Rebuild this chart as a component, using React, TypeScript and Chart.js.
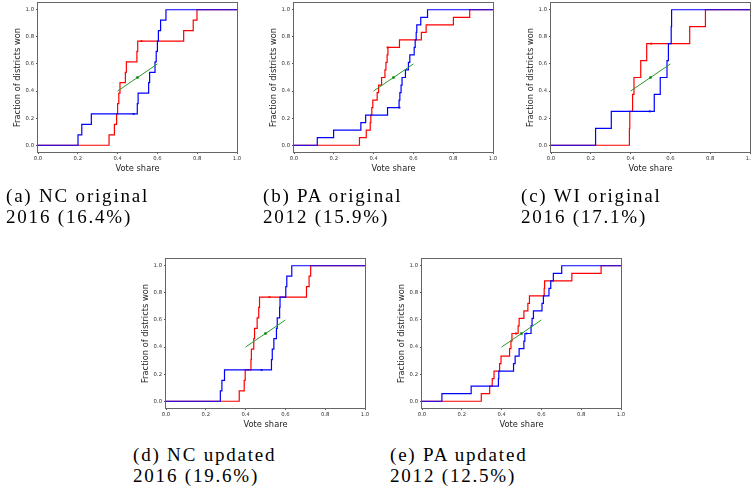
import React, { useEffect, useRef } from 'react';
import { Chart, registerables } from 'chart.js';

Chart.register(...registerables);

// ---------- data ----------
const X_TICKS = [0, 0.2, 0.4, 0.6, 0.8, 1.0];
const Y_TICKS = [0, 0.2, 0.4, 0.6, 0.8, 1.0];

// Democratic (blue) and Republican (red) district vote shares, sorted
const NC_ORIG_DEM = [0.201, 0.220, 0.268, 0.499, 0.503, 0.556, 0.561, 0.588, 0.594, 0.600, 0.605, 0.616, 0.643];
const NC_ORIG_REP = [0.357, 0.384, 0.395, 0.400, 0.406, 0.412, 0.439, 0.444, 0.497, 0.501, 0.732, 0.780, 0.799];
const NC_ORIG_DEM_MARK = [0.48, 0.231];
const NC_ORIG_REP_MARK = [0.52, 0.769];

const PA_ORIG_DEM = [0.117, 0.199, 0.336, 0.360, 0.470, 0.528, 0.532, 0.538, 0.543, 0.560, 0.575, 0.582, 0.604, 0.609, 0.614, 0.617, 0.637, 0.671];
const PA_ORIG_REP = [0.329, 0.363, 0.383, 0.386, 0.391, 0.396, 0.418, 0.425, 0.440, 0.457, 0.462, 0.468, 0.472, 0.530, 0.640, 0.664, 0.801, 0.883];
const PA_ORIG_DEM_MARK = [0.53, 0.278];
const PA_ORIG_REP_MARK = [0.47, 0.722];

const WI_ORIG_DEM = [0.224, 0.303, 0.519, 0.549, 0.583, 0.590, 0.604, 0.606];
const WI_ORIG_REP = [0.394, 0.396, 0.410, 0.417, 0.451, 0.481, 0.697, 0.776];
const WI_ORIG_DEM_MARK = [0.496, 0.25];
const WI_ORIG_REP_MARK = [0.504, 0.75];

const NC_UPD_DEM = [0.273, 0.281, 0.294, 0.530, 0.534, 0.542, 0.555, 0.559, 0.571, 0.573, 0.602, 0.607, 0.632];
const NC_UPD_REP = [0.368, 0.393, 0.398, 0.427, 0.429, 0.441, 0.445, 0.458, 0.466, 0.470, 0.706, 0.719, 0.727];
const NC_UPD_DEM_MARK = [0.48, 0.231];
const NC_UPD_REP_MARK = [0.52, 0.769];

const PA_UPD_DEM = [0.100, 0.247, 0.384, 0.386, 0.460, 0.468, 0.488, 0.512, 0.517, 0.548, 0.553, 0.560, 0.603, 0.610, 0.638, 0.647, 0.660, 0.702];
const PA_UPD_REP = [0.298, 0.340, 0.353, 0.362, 0.390, 0.397, 0.440, 0.447, 0.452, 0.483, 0.488, 0.512, 0.532, 0.540, 0.614, 0.616, 0.753, 0.900];
const PA_UPD_DEM_MARK = [0.525, 0.5];
const PA_UPD_REP_MARK = [0.472, 0.5];

const GREEN_LINE_X = [0.4, 0.6];
const GREEN_LINE_Y = [0.4, 0.6];
const GREEN_DOT = [0.5, 0.5];

const X_TITLE = 'Vote share';
const Y_TITLE = 'Fraction of districts won';

// ---------- layout ----------
const PLOT_W = 199;
const PLOT_H = 149;
const PAD = 12;
const YW = 25;
const XH = 22;

type PanelProps = {
  dem: number[];
  rep: number[];
  demMark: number[];
  repMark: number[];
  left: number;
  top: number;
};

function cdf(shares: number[]) {
  const n = shares.length;
  const pts = [{ x: 0, y: 0 }];
  shares.forEach((s, i) => pts.push({ x: s, y: (i + 1) / n }));
  pts.push({ x: 1, y: 1 });
  return pts;
}

const framePlugin = {
  id: 'frame',
  afterDatasetsDraw(chart: any) {
    const { ctx, chartArea } = chart;
    ctx.save();
    ctx.strokeStyle = '#666';
    ctx.lineWidth = 1;
    ctx.strokeRect(
      chartArea.left - 0.5,
      chartArea.top - 0.5,
      chartArea.right - chartArea.left + 1,
      chartArea.bottom - chartArea.top + 1
    );
    ctx.restore();
  },
};

const TICK_FONT = { family: 'DejaVu Sans', size: 5.3 };
const TITLE_FONT = { family: 'DejaVu Sans', size: 8.3 };

function Panel({ dem, rep, demMark, repMark, left, top }: PanelProps) {
  const ref = useRef<HTMLCanvasElement | null>(null);
  const cw = PAD + YW + PLOT_W + PAD;
  const ch = PAD + PLOT_H + XH + PAD;

  useEffect(() => {
    if (!ref.current) return;
    const chart = new Chart(ref.current, {
      type: 'line',
      data: {
        datasets: [
          {
            data: [{ x: GREEN_DOT[0], y: GREEN_DOT[1] }],
            showLine: false,
            pointRadius: 1.7,
            pointStyle: 'rect',
            pointBackgroundColor: '#008000',
            pointBorderColor: '#008000',
            pointBorderWidth: 0,
          },
          {
            data: GREEN_LINE_X.map((x, i) => ({ x, y: GREEN_LINE_Y[i] })),
            borderColor: '#2a962a',
            borderWidth: 1,
            pointRadius: 0,
          },
          {
            data: [{ x: demMark[0], y: demMark[1] }],
            showLine: false,
            pointRadius: 1.3,
            pointStyle: 'rect',
            pointBackgroundColor: '#0000ff',
            pointBorderWidth: 0,
          },
          {
            data: [{ x: repMark[0], y: repMark[1] }],
            showLine: false,
            pointRadius: 1.3,
            pointStyle: 'rect',
            pointBackgroundColor: '#ff0000',
            pointBorderWidth: 0,
          },
          {
            data: cdf(dem),
            stepped: true,
            borderColor: '#0000ff',
            borderWidth: 1.2,
            pointRadius: 0,
          },
          {
            data: cdf(rep),
            stepped: true,
            borderColor: '#ff0000',
            borderWidth: 1.2,
            pointRadius: 0,
          },
        ],
      },
      options: {
        responsive: false,
        maintainAspectRatio: false,
        animation: false,
        devicePixelRatio: 1,
        events: [],
        layout: { padding: PAD },
        plugins: { legend: { display: false }, tooltip: { enabled: false } },
        scales: {
          x: {
            type: 'linear',
            min: 0,
            max: 1,
            afterBuildTicks: (s: any) => {
              s.ticks = X_TICKS.map((v) => ({ value: v }));
            },
            afterFit: (s: any) => {
              s.height = XH;
            },
            ticks: {
              font: TICK_FONT,
              color: '#333',
              padding: 1,
              maxRotation: 0,
              autoSkip: false,
              callback: (v: any) => Number(v).toFixed(1),
            },
            grid: { drawOnChartArea: false, drawTicks: true, tickLength: 2, color: '#555' },
            border: { display: false },
            title: { display: true, text: X_TITLE, font: TITLE_FONT, color: '#222', padding: 0 },
          },
          y: {
            type: 'linear',
            min: -0.05,
            max: 1.05,
            afterBuildTicks: (s: any) => {
              s.ticks = Y_TICKS.map((v) => ({ value: v }));
            },
            afterFit: (s: any) => {
              s.width = YW;
            },
            ticks: {
              font: TICK_FONT,
              color: '#333',
              padding: 2,
              autoSkip: false,
              callback: (v: any) => Number(v).toFixed(1),
            },
            grid: { drawOnChartArea: false, drawTicks: true, tickLength: 2, color: '#555' },
            border: { display: false },
            title: { display: true, text: Y_TITLE, font: TITLE_FONT, color: '#222', padding: 0 },
          },
        },
      },
      plugins: [framePlugin],
    } as any);
    return () => chart.destroy();
  }, [dem, rep, demMark, repMark]);

  return (
    <canvas
      ref={ref}
      width={cw}
      height={ch}
      style={{
        position: 'absolute',
        left: left - PAD - YW,
        top: top - PAD,
        width: cw,
        height: ch,
      }}
    />
  );
}

function Caption({ left, top, lines }: { left: number; top: number; lines: string[] }) {
  return (
    <div
      style={{
        position: 'absolute',
        left,
        top,
        fontFamily: '"Liberation Serif", serif',
        fontSize: 19,
        lineHeight: '21px',
        letterSpacing: '1.8px',
        whiteSpace: 'pre',
        color: '#000',
      }}
    >
      {lines.map((l, i) => (
        <div key={i}>{l}</div>
      ))}
    </div>
  );
}

export default function App() {
  return (
    <div
      style={{
        position: 'absolute',
        left: 0,
        top: 0,
        width: 751,
        height: 491,
        overflow: 'hidden',
        background: '#fff',
      }}
    >
      <Panel dem={NC_ORIG_DEM} rep={NC_ORIG_REP} demMark={NC_ORIG_DEM_MARK} repMark={NC_ORIG_REP_MARK} left={38} top={3} />
      <Panel dem={PA_ORIG_DEM} rep={PA_ORIG_REP} demMark={PA_ORIG_DEM_MARK} repMark={PA_ORIG_REP_MARK} left={294} top={3} />
      <Panel dem={WI_ORIG_DEM} rep={WI_ORIG_REP} demMark={WI_ORIG_DEM_MARK} repMark={WI_ORIG_REP_MARK} left={551} top={3} />
      <Panel dem={NC_UPD_DEM} rep={NC_UPD_REP} demMark={NC_UPD_DEM_MARK} repMark={NC_UPD_REP_MARK} left={166} top={259} />
      <Panel dem={PA_UPD_DEM} rep={PA_UPD_REP} demMark={PA_UPD_DEM_MARK} repMark={PA_UPD_REP_MARK} left={422} top={259} />

      <Caption left={6} top={185} lines={['(a) NC original', '2016 (16.4%)']} />
      <Caption left={263} top={185} lines={['(b) PA original', '2012 (15.9%)']} />
      <Caption left={521} top={185} lines={['(c) WI original', '2016 (17.1%)']} />
      <Caption left={133} top={444} lines={['(d) NC updated', '2016 (19.6%)']} />
      <Caption left={390} top={444} lines={['(e) PA updated', '2012 (12.5%)']} />
    </div>
  );
}
